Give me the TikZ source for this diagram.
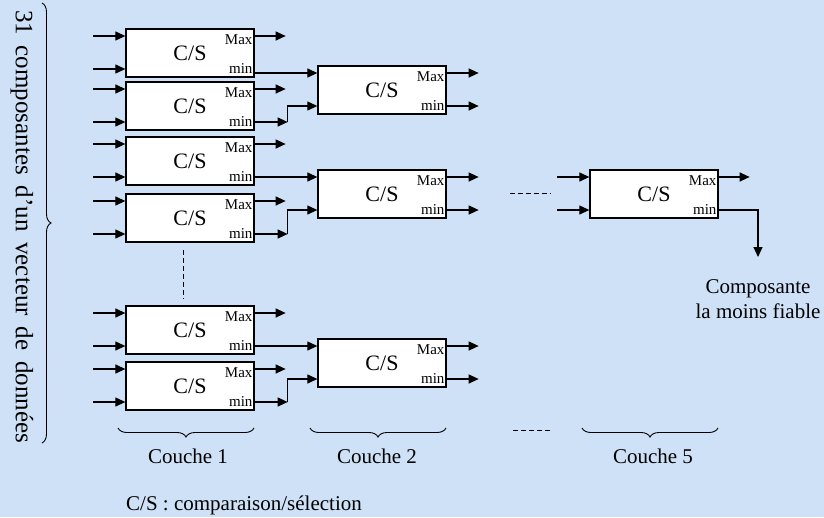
\documentclass[tikz,border=0pt]{standalone}
\usepackage{fontspec}
\setmainfont{Liberation Serif}
\usetikzlibrary{arrows.meta,calc,decorations.pathreplacing}
\definecolor{bgblue}{RGB}{206,225,246}
\begin{document}
\begin{tikzpicture}[x=1pt,y=-1pt,
  lab/.style={font=\fontsize{15}{17}\selectfont, inner sep=0pt},
  cs/.style={draw, line width=1.3pt, fill=white, minimum width=128pt, minimum height=48pt,
    inner sep=0pt, font=\fontsize{22}{24}\selectfont,
    label={[lab,anchor=north east,xshift=-2pt,yshift=-6pt]north east:Max},
    label={[lab,anchor=south east,xshift=-2pt,yshift=4pt]south east:min}},
  arr/.style={line width=1.2pt, -{Triangle[length=10pt,width=9pt]}},
  dsh/.style={line width=0.9pt, dash pattern=on 5pt off 3pt},
  brc/.style={line width=0.9pt, decorate, decoration={brace, amplitude=9pt}},
  txt/.style={font=\fontsize{21}{25}\selectfont, inner sep=0pt}]
\fill[bgblue] (0,0) rectangle (824,517);
\useasboundingbox (0,0) rectangle (824,517);

% layer 1
\node[cs] (a1) at (190,53) {C/S\hspace{32pt}};
\node[cs] (a2) at (190,106) {C/S\hspace{32pt}};
\node[cs] (a3) at (190,161) {C/S\hspace{32pt}};
\node[cs] (a4) at (190,218) {C/S\hspace{32pt}};
\node[cs] (a5) at (190,330) {C/S\hspace{32pt}};
\node[cs] (a6) at (190,386) {C/S\hspace{32pt}};
% layer 2
\node[cs] (b1) at (382,90) {C/S\hspace{32pt}};
\node[cs] (b2) at (382,194) {C/S\hspace{32pt}};
\node[cs] (b3) at (382,363) {C/S\hspace{32pt}};
% layer 5
\node[cs] (c1) at (654,194) {C/S\hspace{32pt}};

% inputs and Max outputs of layer 1
\foreach \n in {a1,a2,a3,a4,a5,a6} {
  \draw[arr] ($(\n.west)+(-32,-17)$) -- ($(\n.west)+(0,-17)$);
  \draw[arr] ($(\n.west)+(-32,16)$) -- ($(\n.west)+(0,16)$);
  \draw[arr] ($(\n.east)+(0,-17)$) -- ($(\n.east)+(31,-17)$);
}
% outputs of layer 2
\foreach \n in {b1,b2,b3} {
  \draw[arr] ($(\n.east)+(0,-17)$) -- ($(\n.east)+(32,-17)$);
  \draw[arr] ($(\n.east)+(0,16)$) -- ($(\n.east)+(32,16)$);
}
% min connections layer 1 -> layer 2
\draw[arr] ($(a1.east)+(0,20)$) -- ($(b1.west)+(0,-17)$);
\draw[arr] ($(a2.east)+(0,16)$) -- ($(a2.east)+(33,16)$);
\draw[arr] ($(a2.east)+(33,16)$) |- ($(b1.west)+(0,16)$);
\draw[arr] ($(a3.east)+(0,16)$) -- ($(b2.west)+(0,-17)$);
\draw[arr] ($(a4.east)+(0,16)$) -- ($(a4.east)+(33,16)$);
\draw[arr] ($(a4.east)+(33,16)$) |- ($(b2.west)+(0,16)$);
\draw[arr] ($(a5.east)+(0,16)$) -- ($(b3.west)+(0,-17)$);
\draw[arr] ($(a6.east)+(0,16)$) -- ($(a6.east)+(33,16)$);
\draw[arr] ($(a6.east)+(33,16)$) |- ($(b3.west)+(0,16)$);

% layer 5
\draw[arr] ($(c1.west)+(-32,-17)$) -- ($(c1.west)+(0,-17)$);
\draw[arr] ($(c1.west)+(-32,16)$) -- ($(c1.west)+(0,16)$);
\draw[arr] ($(c1.east)+(0,-17)$) -- ($(c1.east)+(31,-17)$);
\node[txt, align=center, anchor=base] (res) at (758,318) {Composante\\la moins fiable};
\coordinate (restip) at (758,257);
\draw[arr] ($(c1.east)+(0,16)$) -| (restip);

% dashed continuations
\draw[dsh] (183,250) -- (183,299);
\draw[dsh] (510,193) -- (551,193);
\draw[dsh] (513,430) -- (552,430);

% layer braces
\draw[brc, decoration={mirror}] (118,428) -- (254,428);
\draw[brc, decoration={mirror}] (310,428) -- (446,428);
\draw[brc, decoration={mirror}] (582,428) -- (718,428);
\node[txt, anchor=base] (l1) at (188,463) {Couche 1};
\node[txt, anchor=base] (l2) at (377,463) {Couche 2};
\node[txt, anchor=base] (l5) at (653,463) {Couche 5};

% left brace and text
\draw[brc] (42,3) -- (42,443);
\node[rotate=-90, font=\fontsize{25}{28}\selectfont, inner sep=0pt] (vt) at (22,226.5)
  {\makebox[433pt][s]{31 composantes d’un vecteur de données}};

% legend
\node[txt, anchor=base west] (leg) at (126,510)
  {C/S : comparaison/sélection};
\end{tikzpicture}
\end{document}
